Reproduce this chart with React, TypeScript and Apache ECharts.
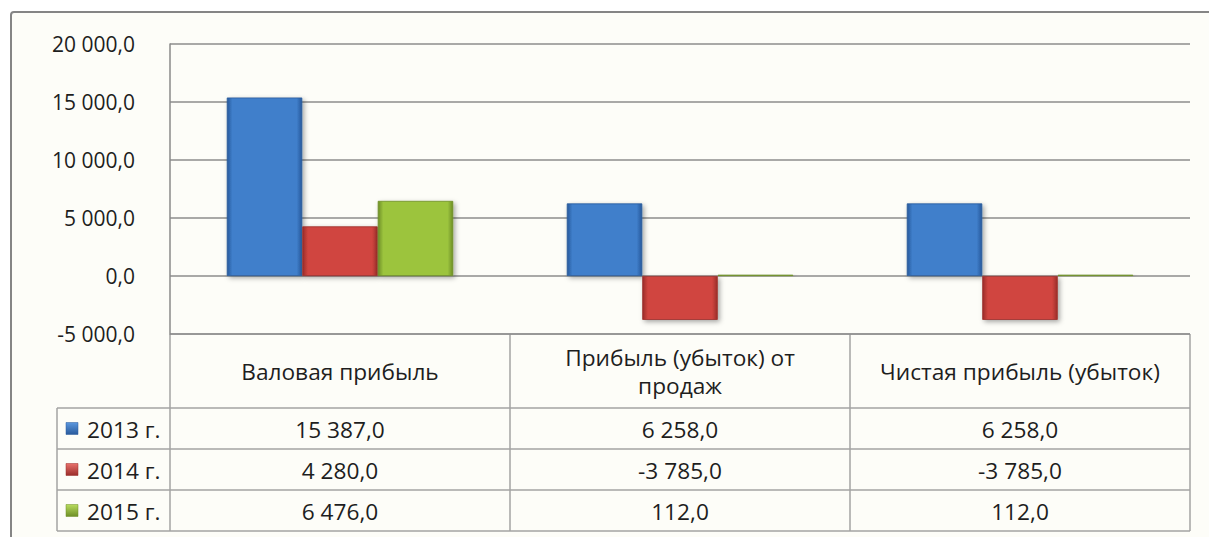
import React, { useEffect, useRef } from "react";
import * as echarts from "echarts";

// Categories, table header captions and series values
const categories = ["Валовая прибыль", "Прибыль (убыток) от продаж", "Чистая прибыль (убыток)"];
const headerCaptions = ["Валовая прибыль", "Прибыль (убыток) от\nпродаж", "Чистая прибыль (убыток)"];
const seriesNames = ["2013 г.", "2014 г.", "2015 г."];
const values2013 = [15387, 6258, 6258];
const values2014 = [4280, -3785, -3785];
const values2015 = [6476, 112, 112];
const yMin = -5000;
const yMax = 20000;
const yStep = 5000;

const seriesValues = [values2013, values2014, values2015];

// Bar palettes: [edge, body, highlight]
const palettes = [
  ["#285a9c", "#3f7fcb", "#5b97de"],
  ["#9a2d2a", "#d0453f", "#e8706b"],
  ["#6e8f26", "#9cc43e", "#b8dc5e"],
];

const FONT = '"Open Sans", "Noto Sans", sans-serif';
const TEXT = "#1e1e1e";

const W = 1209;
const H = 537;
const GRID_LEFT = 170;
const GRID_RIGHT = 1190;
const GRID_TOP = 44;
const GRID_BOTTOM = 334;
const TABLE_LEFT = 57;
const ROW_BOUNDS = [334, 408, 449, 490, 531];
const TABLE_FONT = `21px ${FONT}`;
const TABLE_STRETCH = 1.08;

function fmt(v: number): string {
  const neg = v < 0;
  const abs = Math.abs(v);
  const intPart = Math.floor(abs).toString().replace(/\B(?=(\d{3})+(?!\d))/g, " ");
  return (neg ? "-" : "") + intPart + ",0";
}

function barGradient(p: string[]) {
  return new echarts.graphic.LinearGradient(0, 0, 1, 0, [
    { offset: 0, color: p[0] },
    { offset: 0.07, color: p[1] },
    { offset: 0.5, color: p[1] },
    { offset: 0.93, color: p[1] },
    { offset: 1, color: p[0] },
  ]);
}

function keyGradient(p: string[]) {
  return new echarts.graphic.LinearGradient(0, 0, 0, 1, [
    { offset: 0, color: p[2] },
    { offset: 1, color: p[0] },
  ]);
}

export default function App() {
  const ref = useRef<HTMLDivElement>(null);

  useEffect(() => {
    document.body.style.margin = "0";
    if (!ref.current) return;
    const chart = echarts.init(ref.current, null, { renderer: "svg" });

    const colW = (GRID_RIGHT - GRID_LEFT) / categories.length;
    const lineStyle = { stroke: "#a3a3a3", lineWidth: 1.5 };
    const graphics: any[] = [];

    // Outer frame of the chart area
    graphics.push({
      type: "rect",
      z: -10,
      shape: { x: 11, y: 12, width: W + 20, height: H + 20, r: 3 },
      style: { fill: "#fdfdf8", stroke: "#858585", lineWidth: 2 },
      silent: true,
    });

    // Table horizontal rules
    ROW_BOUNDS.forEach((y, i) => {
      const x1 = i <= 0 ? GRID_LEFT : TABLE_LEFT;
      graphics.push({ type: "line", shape: { x1, y1: y, x2: GRID_RIGHT, y2: y }, style: lineStyle, silent: true });
    });
    // Table vertical rules
    graphics.push({
      type: "line",
      shape: { x1: TABLE_LEFT, y1: ROW_BOUNDS[1], x2: TABLE_LEFT, y2: ROW_BOUNDS[4] },
      style: lineStyle,
      silent: true,
    });
    for (let c = 0; c <= categories.length; c++) {
      const x = GRID_LEFT + c * colW;
      graphics.push({
        type: "line",
        shape: { x1: x, y1: ROW_BOUNDS[0], x2: x, y2: ROW_BOUNDS[4] },
        style: lineStyle,
        silent: true,
      });
    }

    // Header captions
    headerCaptions.forEach((cap, c) => {
      graphics.push({
        type: "text",
        x: GRID_LEFT + (c + 0.5) * colW,
        y: (ROW_BOUNDS[0] + ROW_BOUNDS[1]) / 2 + 1,
        scaleX: TABLE_STRETCH,
        style: {
          text: cap,
          font: TABLE_FONT,
          fill: TEXT,
          align: "center",
          verticalAlign: "middle",
          lineHeight: 28,
        },
        silent: true,
      });
    });

    // Data rows with legend keys
    seriesNames.forEach((name, r) => {
      const yMid = (ROW_BOUNDS[r + 1] + ROW_BOUNDS[r + 2]) / 2;
      graphics.push({
        type: "rect",
        shape: { x: 66, y: yMid - 6, width: 12, height: 12 },
        style: { fill: keyGradient(palettes[r]), stroke: palettes[r][0], lineWidth: 0.5 },
        silent: true,
      });
      graphics.push({
        type: "text",
        x: 87,
        y: yMid + 1,
        scaleX: TABLE_STRETCH,
        style: { text: name, font: TABLE_FONT, fill: TEXT, align: "left", verticalAlign: "middle" },
        silent: true,
      });
      seriesValues[r].forEach((v, c) => {
        graphics.push({
          type: "text",
          x: GRID_LEFT + (c + 0.5) * colW,
          y: yMid + 1,
          scaleX: TABLE_STRETCH,
          style: { text: fmt(v), font: TABLE_FONT, fill: TEXT, align: "center", verticalAlign: "middle" },
          silent: true,
        });
      });
    });

    chart.setOption({
      animation: false,
      backgroundColor: "#ffffff",
      grid: {
        left: GRID_LEFT,
        right: W - GRID_RIGHT,
        top: GRID_TOP,
        bottom: H - GRID_BOTTOM,
        containLabel: false,
      },
      xAxis: {
        type: "category",
        data: categories,
        axisLine: { show: false },
        axisTick: { show: false },
        axisLabel: { show: false },
        splitLine: { show: false },
      },
      yAxis: {
        type: "value",
        min: yMin,
        max: yMax,
        interval: yStep,
        axisLine: { show: true, lineStyle: { color: "#8a8a8a", width: 1.5 } },
        axisTick: { show: false },
        axisLabel: {
          formatter: (v: number) => fmt(v),
          fontFamily: FONT,
          fontSize: 21,
          color: TEXT,
          margin: 35,
          verticalAlign: "middle",
        },
        splitLine: { show: true, lineStyle: { color: "#8c8c8c", width: 1.5 } },
      },
      graphic: graphics,
      series: seriesNames.map((name, i) => ({
        name,
        type: "bar",
        data: seriesValues[i],
        barWidth: "22.2%",
        barGap: "0%",
        itemStyle: {
          color: barGradient(palettes[i]),
          borderColor: palettes[i][0],
          borderWidth: 0.8,
          shadowColor: "rgba(0,0,0,0.35)",
          shadowBlur: 5,
          shadowOffsetX: 2,
          shadowOffsetY: 2,
        },
        z: 3,
      })),
    });

    return () => chart.dispose();
  }, []);

  return <div ref={ref} style={{ width: W, height: H }} />;
}
